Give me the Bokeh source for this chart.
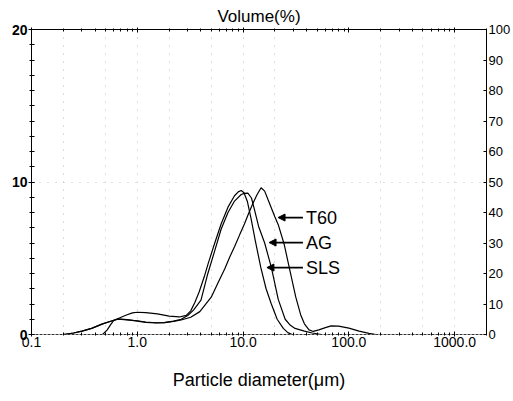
from bokeh.plotting import figure
from bokeh.models import (Range1d, LinearAxis, LogAxis, FixedTicker, Label,
                          Arrow, NormalHead)
from bokeh.embed import file_html
from bokeh.resources import INLINE

# ---------------- data ----------------
sls_d = [0.2, 0.25, 0.3, 0.37, 0.47, 0.59, 0.66, 0.79, 0.9, 1.0, 1.2, 1.55, 2.0, 2.5,
         2.9, 3.2, 3.5, 3.85, 4.3, 4.7, 5.4, 6.2, 7.2, 8.3, 9.0, 9.6, 10.2, 11.0, 11.9,
         13.0, 14.7, 16.5, 18.5, 21.0, 24.0, 26.5, 29.0]
sls_v = [0.0, 0.1, 0.22, 0.4, 0.7, 0.92, 1.05, 1.28, 1.42, 1.46, 1.43, 1.35, 1.2, 1.15,
         1.25, 1.55, 2.1, 2.8, 3.8, 4.7, 6.0, 7.25, 8.35, 9.1, 9.35, 9.44, 9.3, 8.7, 7.6,
         6.2, 4.4, 3.0, 2.0, 1.0, 0.4, 0.12, 0.0]

ag_d = [0.47, 0.52, 0.56, 0.6, 0.66, 0.8, 1.0, 1.2, 1.5, 1.8, 2.2, 2.6, 3.0, 3.4, 4.0,
        4.6, 5.4, 6.2, 7.2, 8.3, 9.6, 10.3, 11.1, 12.0, 12.8, 14.0, 16.0, 18.5, 21.5,
        25.0, 28.0, 31.0, 38.0, 45.0, 55.0]
ag_v = [0.0, 0.3, 0.65, 0.92, 1.03, 0.98, 0.88, 0.8, 0.76, 0.78, 0.88, 1.0, 1.25, 1.6,
        2.25, 3.9, 5.5, 6.9, 8.0, 8.75, 9.18, 9.25, 9.27, 8.95, 8.2, 7.1, 6.0, 4.4, 2.3,
        1.0, 0.6, 0.4, 0.22, 0.1, 0.0]

t60_d = [0.2, 0.25, 0.3, 0.37, 0.47, 0.59, 0.66, 0.8, 1.0, 1.2, 1.5, 1.8, 2.2, 2.6, 3.2,
         3.9, 5.0, 5.8, 6.7, 7.5, 8.3, 9.3, 10.3, 11.3, 12.4, 13.5, 14.8, 16.0, 17.2,
         18.5, 20.0, 21.5, 24.5, 27.3, 31.5, 35.0, 38.0, 42.0, 46.0, 52.0, 60.0, 68.0,
         80.0, 100.0, 125.0, 155.0, 180.0]
t60_v = [0.0, 0.1, 0.22, 0.4, 0.7, 0.92, 1.0, 0.96, 0.9, 0.82, 0.77, 0.78, 0.86, 0.95,
         1.13, 1.5, 2.45, 3.4, 4.3, 5.1, 5.75, 6.55, 7.25, 7.95, 8.6, 9.15, 9.62, 9.4,
         8.85, 8.3, 7.7, 7.2, 5.9, 4.4, 2.45, 1.3, 0.7, 0.3, 0.2, 0.3, 0.45, 0.57, 0.55,
         0.42, 0.22, 0.07, 0.0]

series_names = ["T60", "AG", "SLS"]

x_major_ticks = [0.1, 1, 10, 100, 1000]
x_tick_labels = ["0.1", "1.0", "10.0", "100.0", "1000.0"]
x_minor_ticks = [k * 10.0 ** e for e in range(-1, 4) for k in range(2, 10) if k * 10.0 ** e <= 2000]
grid_x = [0.2, 0.5, 1, 2, 5, 10, 20, 200, 500, 1000]

left_ticks = [0, 10, 20]
left_minor = list(range(0, 21))
right_ticks = list(range(0, 101, 10))

FONT = "Liberation Sans"

p = figure(width=513, height=401, x_axis_type="log",
           x_range=Range1d(0.1, 2000), y_range=Range1d(0, 20),
           output_backend="svg", toolbar_location=None,
           min_border_left=31, min_border_right=27, min_border_top=29,
           min_border_bottom=67)
p.outline_line_color = None
p.background_fill_color = "white"

# grid (sparse dotted lines)
p.xgrid.ticker = FixedTicker(ticks=grid_x)
p.xgrid.grid_line_color = "#888888"
p.xgrid.grid_line_dash = "1 7"
p.xgrid.grid_line_alpha = 0.55
p.ygrid.ticker = FixedTicker(ticks=[10])
p.ygrid.grid_line_color = "#888888"
p.ygrid.grid_line_dash = "1 7"
p.ygrid.grid_line_alpha = 0.55

xticker = FixedTicker(ticks=x_major_ticks, minor_ticks=x_minor_ticks)

# bottom axis
xa = p.xaxis[0]
xa.ticker = xticker
xa.major_label_overrides = {t: s for t, s in zip(x_major_ticks, x_tick_labels)}
xa.major_label_text_font = FONT
xa.major_label_text_font_size = "14px"
xa.major_label_text_color = "black"
xa.major_label_standoff = 0
xa.major_tick_in = 3
xa.major_tick_out = 2
xa.minor_tick_in = 2
xa.minor_tick_out = 1
xa.axis_line_color = "#333333"
xa.axis_line_dash = "3 1"
xa.axis_label = "Particle diameter(\u03bcm)"
xa.axis_label_text_font = FONT
xa.axis_label_text_font_size = "18px"
xa.axis_label_text_font_style = "normal"
xa.axis_label_text_color = "black"
xa.axis_label_standoff = 20

# top axis with the title
top = LogAxis(ticker=xticker)
top.major_label_text_font_size = "1px"
top.major_label_text_alpha = 0
top.major_label_standoff = 0
top.major_tick_in = 3
top.major_tick_out = 2
top.minor_tick_in = 2
top.minor_tick_out = 1
top.axis_label = "Volume(%)"
top.axis_label_text_font = FONT
top.axis_label_text_font_size = "17px"
top.axis_label_text_font_style = "normal"
top.axis_label_text_color = "black"
top.axis_label_standoff = 2
p.add_layout(top, "above")

# left axis
ya = p.yaxis[0]
ya.ticker = FixedTicker(ticks=left_ticks, minor_ticks=left_minor)
ya.major_label_text_font = FONT
ya.major_label_text_font_size = "14px"
ya.major_label_text_font_style = "bold"
ya.major_label_text_color = "black"
ya.major_label_text_baseline = "bottom"
ya.major_label_standoff = 1
ya.major_tick_in = 3
ya.major_tick_out = 3
ya.minor_tick_in = 3
ya.minor_tick_out = 2
ya.axis_line_color = "black"

# right axis
p.extra_y_ranges = {"pct": Range1d(0, 100)}
ra = LinearAxis(y_range_name="pct", ticker=FixedTicker(ticks=right_ticks))
ra.major_label_text_font = FONT
ra.major_label_text_font_size = "13px"
ra.major_label_text_color = "black"
ra.major_label_text_baseline = "bottom"
ra.major_label_standoff = 2
ra.major_tick_in = 3
ra.major_tick_out = 0
ra.minor_tick_in = 0
ra.minor_tick_out = 0
p.add_layout(ra, "right")

# curves
for d, v in [(sls_d, sls_v), (ag_d, ag_v), (t60_d, t60_v)]:
    p.line(d, v, line_color="black", line_width=1.2)

# labels with arrows
label_pos = [(39.3, 7.67, 21.4), (39.3, 6.03, 17.6), (39.3, 4.39, 16.8)]
for name, (tx, ty, tip) in zip(series_names, label_pos):
    p.add_layout(Arrow(end=NormalHead(size=7, line_color="black", fill_color="black"),
                       x_start=36.8, y_start=ty, x_end=tip, y_end=ty,
                       line_color="black", line_width=1.8))
    p.add_layout(Label(x=tx, y=ty, text=name, text_align="left", text_baseline="middle",
                       text_font=FONT, text_font_size="18px", text_color="black"))

open("out.html", "w").write(file_html(p, INLINE))
